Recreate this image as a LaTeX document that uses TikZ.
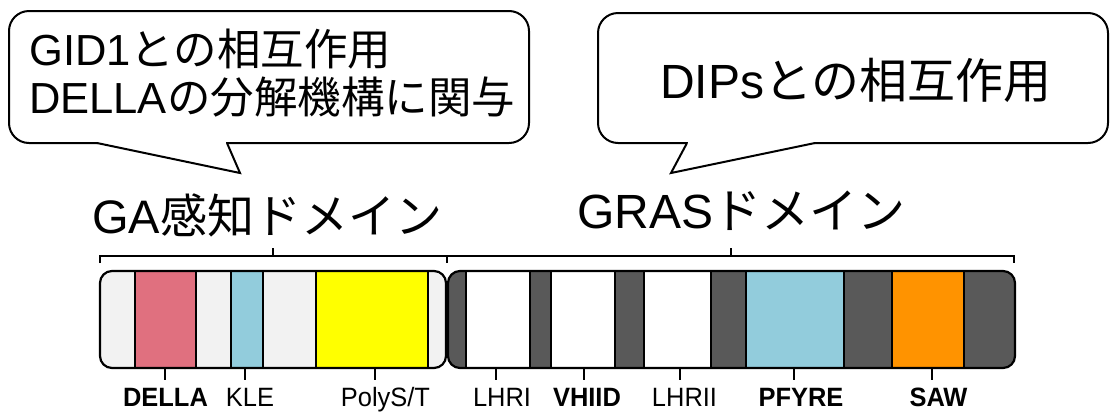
\documentclass[tikz,border=0pt]{standalone}
\usepackage{graphicx}
\usepackage{fontspec}
\setmainfont{Liberation Sans}
\newfontfamily\jp{Noto Sans CJK JP}
\definecolor{cpink}{HTML}{E0707F}
\definecolor{cblue}{HTML}{92CCDC}
\definecolor{cyel}{HTML}{FFFF00}
\definecolor{corange}{HTML}{FF9300}
\definecolor{cdark}{HTML}{595959}
\definecolor{clight}{HTML}{F2F2F2}
\newcommand{\nlab}[1]{\scalebox{0.96}[1]{#1}}
\begin{document}
\begin{tikzpicture}[x=1pt,y=-1pt,
  seg/.style={draw=black,line width=2pt,minimum height=97pt,inner sep=0pt,outer sep=0pt},
  outline/.style={draw=black,line width=2.2pt,rounded corners=12pt},
  brk/.style={draw=black,line width=2pt},
  tick/.style={draw=black,line width=1.8pt},
  lbl/.style={font=\fontsize{26.5}{26.5}\selectfont,anchor=base,inner sep=0pt},
  bl/.style={lbl,font=\fontsize{26.5}{26.5}\selectfont\bfseries},
  bubble/.style={draw=black,line width=2pt,fill=white},
  ctext/.style={anchor=base west,inner sep=0pt,font=\fontsize{43.5}{43.5}\selectfont},
  dtext/.style={anchor=base west,inner sep=0pt,font=\fontsize{47}{47}\selectfont}]
\useasboundingbox (0,0) rectangle (1110,413);
\fill[white] (0,0) rectangle (1110,413);

% callout 1
\draw[bubble,rounded corners=20pt] (9,11) rectangle (529,143);
\fill[white] (98,140) rectangle (226,146);
\fill[white] (97,143) -- (240,173) -- (227,143) -- cycle;
\draw[bubble,line join=miter] (97,143) -- (240,173) -- (227,143);
\node[ctext] (c1a) at (29,65) {GID1{\jp との相互作用}};
\node[ctext] (c1b) at (29,113) {DELLA{\jp の分解機構に関与}};

% callout 2
\draw[bubble,rounded corners=20pt] (598,13) rectangle (1108,143);
\fill[white] (688,140) rectangle (814,146);
\fill[white] (687,143) -- (671,173) -- (815,143) -- cycle;
\draw[bubble,line join=miter] (687,143) -- (671,173) -- (815,143);
\node[ctext,font=\fontsize{48}{48}\selectfont] (c2) at (660,98) {DIPs{\jp との相互作用}};

% domain titles
\node[dtext] (ga) at (92,233) {GA{\jp 感知ドメイン}};
\node[dtext,font=\fontsize{48}{48}\selectfont] (gras) at (577,228) {GRAS{\jp ドメイン}};

% brackets
\draw[brk] (100,263) -- (100,256) -- (447,256) -- (447,263);
\draw[brk] (273,256) -- (273,248);
\draw[brk] (447,256) -- (1014,256) -- (1014,263);
\draw[brk] (731,256) -- (731,248);

% boxes
\fill[clight,rounded corners=12pt] (100,271) rectangle (446,368);
\fill[cdark,rounded corners=12pt] (448,271) rectangle (1015,368);

\node[seg,fill=cpink,minimum width=61pt] (della) at (165.5,319.5) {};
\node[seg,fill=cblue,minimum width=32pt] (kle) at (247,319.5) {};
\node[seg,fill=cyel,minimum width=112pt] (poly) at (372,319.5) {};
\node[seg,fill=white,minimum width=64pt] (lhri) at (498,319.5) {};
\node[seg,fill=white,minimum width=64pt] (vhiid) at (583,319.5) {};
\node[seg,fill=white,minimum width=67pt] (lhrii) at (677.5,319.5) {};
\node[seg,fill=cblue,minimum width=98pt] (pfyre) at (795,319.5) {};
\node[seg,fill=corange,minimum width=72pt] (saw) at (928,319.5) {};

\draw[outline] (100,271) rectangle (446,368);
\draw[outline] (448,271) rectangle (1015,368);

% ticks
\foreach \n/\dx in {della/-0.5,kle/-2,poly/3,lhri/-2,vhiid/1,lhrii/2.5,pfyre/-1,saw/4}{
  \coordinate (\n-t) at ([xshift=\dx pt,yshift=-12pt]\n.south);
  \draw[tick] ([xshift=\dx pt]\n.south) -- (\n-t);
}

% labels
\node[bl] (l-della) at (165.5,406) {\nlab{DELLA}};
\node[lbl] (l-kle) at (250,406) {\nlab{KLE}};
\node[lbl] (l-poly) at (385.5,406) {\nlab{PolyS/T}};
\node[lbl] (l-lhri) at (502,406) {\nlab{LHRI}};
\node[bl] (l-vhiid) at (587,406) {\nlab{VHIID}};
\node[lbl] (l-lhrii) at (684.5,406) {\nlab{LHRII}};
\node[bl] (l-pfyre) at (801,406) {\nlab{PFYRE}};
\node[bl] (l-saw) at (938.5,406) {\nlab{SAW}};
\end{tikzpicture}
\end{document}
